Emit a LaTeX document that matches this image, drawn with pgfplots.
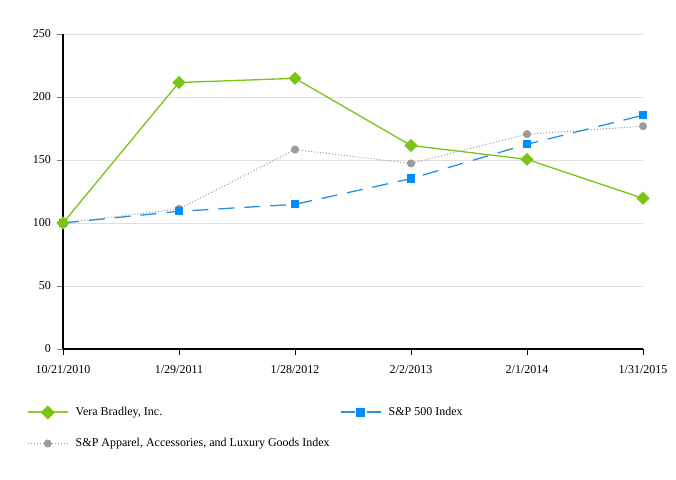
\documentclass[border=0pt]{standalone}
\usepackage{pgfplots}
\pgfplotsset{compat=1.18}
\usepackage{fontspec}
\setmainfont{Liberation Serif}
\definecolor{vgreen}{RGB}{122,196,20}
\definecolor{spblue}{RGB}{0,140,250}
\definecolor{spline}{RGB}{40,145,220}
\definecolor{apgray}{RGB}{155,155,155}
\begin{document}
\fontsize{12bp}{14bp}\selectfont
\begin{tikzpicture}
\useasboundingbox (0,0) rectangle (676bp,480bp);
\begin{axis}[
  at={(63bp,131bp)}, anchor=south west,
  scale only axis, width=580bp, height=315bp,
  xmin=0, xmax=5, ymin=0, ymax=250,
  clip=false,
  axis x line=bottom, axis y line=left,
  axis line style={-, black, line width=1.6bp},
  xtick=data,
  xticklabels={10/21/2010,1/29/2011,1/28/2012,2/2/2013,2/1/2014,1/31/2015},
  ytick={0,50,100,150,200,250},
  tick align=outside,
  major tick length=6bp,
  x tick style={black, line width=0.8bp},
  y tick style={gray, line width=0.8bp},
  ymajorgrids, grid style={gray!25, line width=0.8bp},
  /pgf/number format/assume math mode=true,
  ticklabel style={font=\fontsize{12bp}{14bp}\selectfont},
  yticklabel style={xshift=-2bp},
  xticklabel style={yshift=-6bp},
  legend columns=2,
  legend cell align=left,
  legend style={draw=none, fill=none, at={(axis description cs:-0.068,-0.172)}, anchor=north west,
    font=\fontsize{12bp}{14bp}\selectfont, row sep=17bp,
    /tikz/every odd column/.append style={column sep=5bp},
    /tikz/every even column/.append style={column sep=8bp}},
  legend image code/.code={\draw[mark repeat=2,mark phase=2,#1] plot coordinates {(0bp,0bp) (20bp,0bp) (40bp,0bp)};},
]
\addplot[forget plot, color=apgray, line width=1bp, dotted, mark=*, mark size=3.5bp, mark options={solid, fill=apgray, draw=apgray}]
  coordinates {(0,100) (1,111.2) (2,158.3) (3,147.3) (4,170.5) (5,176.8)};
\addplot[forget plot, color=spline, line width=1.3bp, dash pattern=on 16bp off 10bp, mark=square*, mark size=3.5bp, mark options={solid, fill=spblue, draw=spblue}]
  coordinates {(0,100) (1,109.3) (2,114.8) (3,135.2) (4,162.5) (5,185.5)};
\addplot[forget plot, color=vgreen, line width=1.3bp, mark=square*, mark size=4bp, mark options={solid, rotate=45, fill=vgreen, draw=vgreen}]
  coordinates {(0,100) (1,211.5) (2,214.8) (3,161.5) (4,150.5) (5,119.6)};
\addlegendimage{color=vgreen!85, line width=2bp, mark=square*, mark size=4bp, mark options={solid, rotate=45, fill=vgreen, draw=vgreen}}
\addlegendentry{Vera Bradley, Inc.}
\addlegendimage{color=spline, line width=2bp, dash pattern=on 14bp off 12bp, mark=square*, mark size=3.5bp, mark options={solid, fill=spblue, draw=spblue}}
\addlegendentry{S\&P 500 Index}
\addlegendimage{color=apgray, line width=1bp, dotted, mark=*, mark size=3.5bp, mark options={solid, fill=apgray, draw=apgray}}
\addlegendentry{S\&P Apparel, Accessories, and Luxury Goods Index}
\end{axis}
\end{tikzpicture}
\end{document}
